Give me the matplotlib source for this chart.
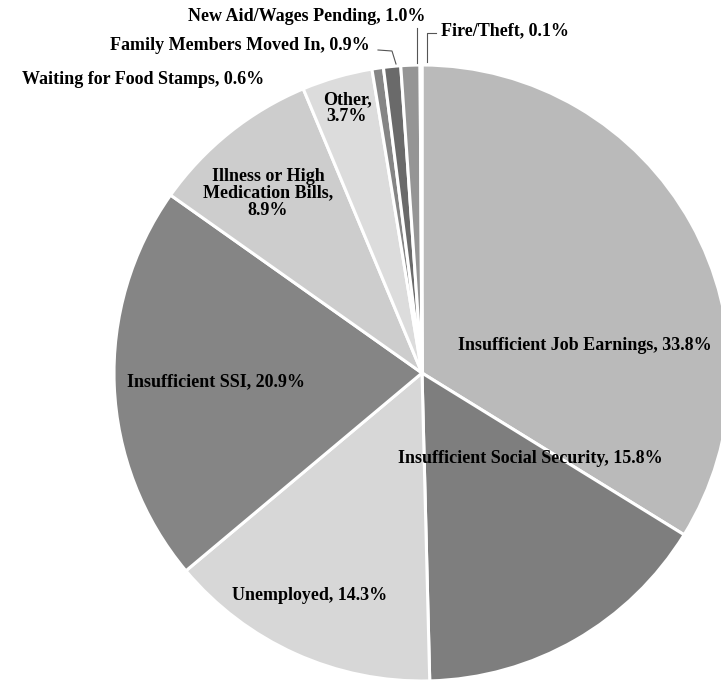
import matplotlib
matplotlib.use("Agg")
import matplotlib.pyplot as plt

categories = ["Insufficient Job Earnings", "Insufficient Social Security", "Unemployed",
              "Insufficient SSI", "Illness or High\nMedication Bills", "Other",
              "Waiting for Food Stamps", "Family Members Moved In",
              "New Aid/Wages Pending", "Fire/Theft"]
values = [33.8, 15.8, 14.3, 20.9, 8.9, 3.7, 0.6, 0.9, 1.0, 0.1]
labels = ["Insufficient Job Earnings, 33.8%", "Insufficient Social Security, 15.8%",
          "Unemployed, 14.3%", "Insufficient SSI, 20.9%",
          "Illness or High\nMedication Bills,\n8.9%", "Other,\n3.7%",
          "Waiting for Food Stamps, 0.6%", "Family Members Moved In, 0.9%",
          "New Aid/Wages Pending, 1.0%", "Fire/Theft, 0.1%"]
colors = ["#bababa", "#7e7e7e", "#d7d7d7", "#858585", "#cdcdcd", "#dcdcdc",
          "#858585", "#6a6a6a", "#959595", "#a0a0a0"]

W, H = 721, 683
CX, CY, R = 422, 373, 308   # pie centre / radius in pixels (layout)


def to_data(px, py):
    return (px - CX) / R, (CY - py) / R


# label anchor positions in pixels (x, y, ha)
label_pos = [(458, 345, "left"), (530, 458, "center"), (310, 596, "center"),
             (216, 382, "center"), (268, 193, "center"), (347, 108, "center"),
             (143, 79, "center"), (240, 45, "center"), (307, 16, "center"),
             (505, 31, "center")]

fig = plt.figure(figsize=(W / 100, H / 100), dpi=100)
ax = fig.add_axes([0, 0, 1, 1])
ax.pie(values, startangle=90, counterclock=False, colors=colors, radius=1.0,
       wedgeprops=dict(edgecolor="white", linewidth=2.2))
ax.set_xlim(-CX / R, (W - CX) / R)
ax.set_ylim((CY - H) / R, CY / R)
ax.set_aspect("auto")
ax.axis("off")

font = dict(family="Liberation Serif", weight="bold", fontsize=13, color="black")
for lab, (px, py, ha) in zip(labels, label_pos):
    x, y = to_data(px, py)
    ax.text(x, y, lab, ha=ha, va="center", linespacing=1.0, **font)

# leader lines (pixel paths)
leaders = [[(378, 50), (392, 51), (396, 64)],
           [(417, 28), (417, 63)],
           [(436, 33), (427, 33), (427, 62)]]
for path in leaders:
    xs, ys = zip(*[to_data(px, py) for px, py in path])
    ax.plot(xs, ys, color="#555555", lw=0.8)

fig.savefig("out.png", dpi=100)
